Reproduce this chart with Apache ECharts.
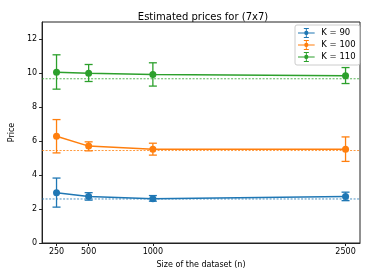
<!DOCTYPE html>
<html><head><meta charset="utf-8">
<script src="https://cdn.jsdelivr.net/npm/echarts@6/dist/echarts.min.js"></script>
<style>html,body{margin:0;padding:0;background:#fff}#c{width:369px;height:277px}</style>
</head><body><div id="c"></div>
<script>
const sizes = [250, 500, 1000, 2500];
const xTicks = [250, 500, 1000, 2500];
const yTicks = [0, 2, 4, 6, 8, 10, 12];
const names = ['K = 90', 'K = 100', 'K = 110'];
const k90 = [2.96, 2.73, 2.61, 2.73];
const k90Low = [2.11, 2.52, 2.46, 2.49];
const k90High = [3.82, 2.96, 2.79, 2.99];
const k90Ref = 2.59;
const k100 = [6.28, 5.70, 5.52, 5.52];
const k100Low = [5.30, 5.42, 5.17, 4.80];
const k100High = [7.26, 5.95, 5.87, 6.24];
const k100Ref = 5.44;
const k110 = [10.05, 9.99, 9.91, 9.84];
const k110Low = [9.05, 9.50, 9.23, 9.38];
const k110High = [11.07, 10.50, 10.60, 10.32];
const k110Ref = 9.66;
const colors = ['#1f77b4', '#ff7f0e', '#2ca02c'];

const groups = [
  {mean: k90, low: k90Low, high: k90High, ref: k90Ref},
  {mean: k100, low: k100Low, high: k100High, ref: k100Ref},
  {mean: k110, low: k110Low, high: k110High, ref: k110Ref}
];
const iconPath = 'path://M0,5.4H20V6.6H0Z M9.4,0H10.6V12H9.4Z M7,0H13V1.1H7Z M7,10.9H13V12H7Z M12.6,6A2.6,2.6 0 1 1 7.4,6A2.6,2.6 0 1 1 12.6,6Z';

const series = [];
groups.forEach((g, i) => {
  series.push({
    name: names[i], type: 'line', z: 3,
    data: sizes.map((s, j) => [s, g.mean[j]]),
    symbol: 'circle', symbolSize: 7,
    itemStyle: {color: colors[i]},
    lineStyle: {color: colors[i], width: 1.5}
  });
  series.push({
    name: names[i] + ' ref', type: 'line', z: 1, silent: true,
    data: [[137.5, g.ref], [2612.5, g.ref]],
    symbol: 'none',
    lineStyle: {color: colors[i], type: [2, 1.5], width: 1, opacity: 0.8}
  });
  series.push({
    name: names[i] + ' err', type: 'custom', z: 2,
    data: sizes.map((s, j) => [s, g.low[j], g.high[j]]),
    renderItem: function (params, api) {
      const lo = api.coord([api.value(0), api.value(1)]);
      const hi = api.coord([api.value(0), api.value(2)]);
      const w = 4;
      const st = {stroke: colors[i], lineWidth: 1.3, fill: null};
      return {type: 'group', children: [
        {type: 'line', shape: {x1: lo[0], y1: lo[1], x2: hi[0], y2: hi[1]}, style: st},
        {type: 'line', shape: {x1: lo[0] - w, y1: lo[1], x2: lo[0] + w, y2: lo[1]}, style: st},
        {type: 'line', shape: {x1: hi[0] - w, y1: hi[1], x2: hi[0] + w, y2: hi[1]}, style: st}
      ]};
    }
  });
});

const chart = echarts.init(document.getElementById('c'), null, {renderer: 'canvas'});
chart.setOption({
  animation: false,
  textStyle: {fontFamily: 'DejaVu Sans'},
  title: {
    text: 'Estimated prices for (7x7)', left: 198, top: 7, textAlign: 'center',
    textStyle: {fontSize: 10, fontWeight: 'normal', color: '#000', fontFamily: 'DejaVu Sans'}
  },
  legend: {
    orient: 'vertical', left: 295, top: 25, padding: [3, 4, 3, 3], itemGap: 2,
    itemWidth: 20, itemHeight: 10,
    backgroundColor: '#fff', borderColor: '#ccc', borderWidth: 1, borderRadius: 2,
    textStyle: {fontSize: 8.5, color: '#000', fontFamily: 'DejaVu Sans'},
    data: names.map((n, i) => ({name: n, icon: iconPath, itemStyle: {color: colors[i]}}))
  },
  grid: {left: 36, right: 9, top: 22, bottom: 34, show: true, borderColor: '#222', borderWidth: 1, backgroundColor: 'transparent'},
  xAxis: {
    type: 'value', min: 137.5, max: 2612.5,
    name: 'Size of the dataset (n)', nameLocation: 'middle', nameGap: 17,
    nameTextStyle: {fontSize: 8, color: '#000', fontFamily: 'DejaVu Sans'},
    axisLine: {show: true, lineStyle: {color: '#222'}},
    axisTick: {show: true, customValues: xTicks, length: 3, lineStyle: {color: '#222'}},
    axisLabel: {customValues: xTicks, formatter: v => String(v), fontSize: 8, color: '#000', margin: 5, fontFamily: 'DejaVu Sans'},
    splitLine: {show: false}
  },
  yAxis: {
    type: 'value', min: 0, max: 13,
    name: 'Price', nameLocation: 'middle', nameGap: 22, nameRotate: 90,
    nameTextStyle: {fontSize: 8, color: '#000', fontFamily: 'DejaVu Sans'},
    axisLine: {show: true, lineStyle: {color: '#222'}},
    axisTick: {show: true, customValues: yTicks, length: 3, lineStyle: {color: '#222'}},
    axisLabel: {customValues: yTicks, formatter: v => String(v), fontSize: 8, color: '#000', margin: 5, fontFamily: 'DejaVu Sans'},
    splitLine: {show: false}
  },
  series: series
});
</script>
</body></html>
